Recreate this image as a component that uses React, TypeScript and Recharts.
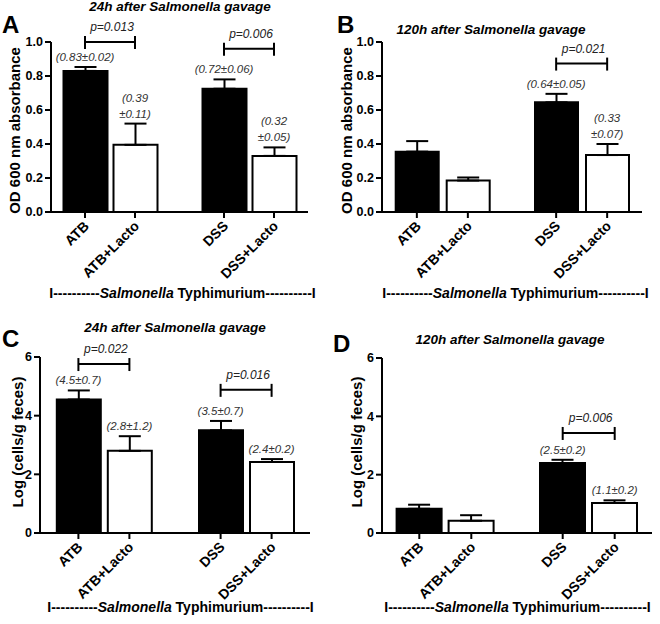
import React from "react";
import { BarChart, Bar, XAxis, YAxis, ErrorBar, ReferenceDot } from "recharts";

const FONT = "'Liberation Sans', Arial, Helvetica, sans-serif";

// ---------- shared categories ----------
const groups = ["ATB", "DSS"];
const xTickLabels = [
  ["ATB", "ATB+Lacto"],
  ["DSS", "DSS+Lacto"],
];

// ---------- Panel A : OD600, 24h ----------
const aPlain = [0.83, 0.725];
const aPlainErr = [0.023, 0.055];
const aLacto = [0.395, 0.33];
const aLactoErr = [0.125, 0.05];
const aPlainNotes = [["(0.83±0.02)"], ["(0.72±0.06)"]];
const aLactoNotes = [["(0.39", "±0.11)"], ["(0.32", "±0.05)"]];
const aPText = ["p=0.013", "p=0.006"];
const aPLevel = [1.0, 0.96];

// ---------- Panel B : OD600, 120h ----------
const bPlain = [0.355, 0.645];
const bPlainErr = [0.062, 0.05];
const bLacto = [0.185, 0.335];
const bLactoErr = [0.018, 0.065];
const bPlainNotes = [null, ["(0.64±0.05)"]];
const bLactoNotes = [null, ["(0.33", "±0.07)"]];
const bPText = [null, "p=0.021"];
const bPLevel = [null, 0.873];

// ---------- Panel C : Log cells, 24h ----------
const cPlain = [4.55, 3.5];
const cPlainErr = [0.31, 0.32];
const cLacto = [2.8, 2.42];
const cLactoErr = [0.5, 0.1];
const cPlainNotes = [["(4.5±0.7)"], ["(3.5±0.7)"]];
const cLactoNotes = [["(2.8±1.2)"], ["(2.4±0.2)"]];
const cPText = ["p=0.022", "p=0.016"];
const cPLevel = [5.76, 4.88];

// ---------- Panel D : Log cells, 120h ----------
const dPlain = [0.83, 2.4];
const dPlainErr = [0.14, 0.11];
const dLacto = [0.42, 1.03];
const dLactoErr = [0.19, 0.09];
const dPlainNotes = [null, ["(2.5±0.2)"]];
const dLactoNotes = [null, ["(1.1±0.2)"]];
const dPText = [null, "p=0.006"];
const dPLevel = [null, 3.43];

const odTicks = [0, 0.2, 0.4, 0.6, 0.8, 1.0];
const logTicks = [0, 2, 4, 6];

const panelLetters = ["A", "B", "C", "D"];
const panelTitles = [
  "24h after Salmonella gavage",
  "120h after Salmonella gavage",
  "24h after Salmonella gavage",
  "120h after Salmonella gavage",
];
const yAxisTitles = [
  "OD 600 nm absorbance",
  "OD 600 nm absorbance",
  "Log (cells/g feces)",
  "Log (cells/g feces)",
];

type Notes = (string[] | null)[];

type PanelCfg = {
  left: number;
  top: number;
  plain: number[];
  plainErr: number[];
  lacto: number[];
  lactoErr: number[];
  plainNotes: Notes;
  lactoNotes: Notes;
  pText: (string | null)[];
  pLevel: (number | null)[];
  yDomain: [number, number];
  yTicks: number[];
  yDecimals: number;
  margin: { top: number; right: number; bottom: number; left: number };
  pad: number;
  barSize: number;
  barGap: number;
};

const XTick = (props: any) => {
  const { x, y, payload, off } = props;
  const gi = groups.indexOf(payload.value);
  const labels = xTickLabels[gi] || [];
  return (
    <g>
      {labels.map((lab, k) => {
        const cx = x + (k === 0 ? -off : off);
        const ex = cx + 5;
        const ey = y + 15;
        return (
          <g key={k}>
            <line x1={cx} x2={cx} y1={y} y2={y + 6} stroke="#000" strokeWidth={2} />
            <text
              x={ex}
              y={ey}
              transform={`rotate(-45 ${ex} ${ey})`}
              textAnchor="end"
              fontSize={14}
              fontWeight="bold"
              fontFamily={FONT}
              fill="#000"
            >
              {lab}
            </text>
          </g>
        );
      })}
    </g>
  );
};

const noteShape = (lines: string[], dx: number) => (p: any) => {
  const { cx, cy } = p;
  const n = lines.length;
  return (
    <g>
      {lines.map((t, k) => (
        <text
          key={k}
          x={cx + dx}
          y={cy - 6 - (n - 1 - k) * 16}
          textAnchor="middle"
          fontSize={11.5}
          fontStyle="italic"
          fontFamily={FONT}
          fill="#333"
        >
          {t}
        </text>
      ))}
    </g>
  );
};

const bracketShape = (label: string, off: number) => (p: any) => {
  const { cx, cy } = p;
  const l = cx - off;
  const r = cx + off;
  return (
    <g>
      <line x1={l} x2={r} y1={cy} y2={cy} stroke="#000" strokeWidth={2} />
      <line x1={l} x2={l} y1={cy - 6} y2={cy + 7} stroke="#000" strokeWidth={2} />
      <line x1={r} x2={r} y1={cy - 6} y2={cy + 7} stroke="#000" strokeWidth={2} />
      <text
        x={cx + 2}
        y={cy - 11}
        textAnchor="middle"
        fontSize={12}
        fontStyle="italic"
        fontFamily={FONT}
        fill="#222"
      >
        {label}
      </text>
    </g>
  );
};

const Panel = ({ cfg }: { cfg: PanelCfg }) => {
  const off = (cfg.barSize + cfg.barGap) / 2;
  const data = groups.map((g, i) => ({
    group: g,
    plain: cfg.plain[i],
    plainErr: [0, cfg.plainErr[i]],
    lacto: cfg.lacto[i],
    lactoErr: [0, cfg.lactoErr[i]],
  }));

  const annotations: React.ReactNode[] = [];
  groups.forEach((g, i) => {
    const pt = cfg.pText[i];
    const pl = cfg.pLevel[i];
    if (pt && pl != null) {
      annotations.push(
        <ReferenceDot
          key={`p${i}`}
          x={g}
          y={pl}
          r={0}
          ifOverflow="visible"
          shape={bracketShape(pt, off)}
        />
      );
    }
    const pn = cfg.plainNotes[i];
    if (pn) {
      annotations.push(
        <ReferenceDot
          key={`pn${i}`}
          x={g}
          y={cfg.plain[i] + cfg.plainErr[i]}
          r={0}
          ifOverflow="visible"
          shape={noteShape(pn, -off)}
        />
      );
    }
    const ln = cfg.lactoNotes[i];
    if (ln) {
      annotations.push(
        <ReferenceDot
          key={`ln${i}`}
          x={g}
          y={cfg.lacto[i] + cfg.lactoErr[i]}
          r={0}
          ifOverflow="visible"
          shape={noteShape(ln, off)}
        />
      );
    }
  });

  return (
    <div style={{ position: "absolute", left: cfg.left, top: cfg.top }}>
      <BarChart
        width={330}
        height={312}
        data={data}
        margin={cfg.margin}
        barGap={cfg.barGap}
      >
        <XAxis
          dataKey="group"
          type="category"
          padding={{ left: cfg.pad, right: cfg.pad }}
          axisLine={{ stroke: "#000", strokeWidth: 2 }}
          tickLine={false}
          tickSize={0}
          tickMargin={0}
          height={60}
          interval={0}
          tick={(p: any) => <XTick {...p} off={off} />}
        />
        <YAxis
          type="number"
          domain={cfg.yDomain}
          ticks={cfg.yTicks}
          interval={0}
          width={40}
          axisLine={{ stroke: "#000", strokeWidth: 2 }}
          tickLine={{ stroke: "#000", strokeWidth: 2 }}
          tickSize={6}
          tickMargin={2}
          tickFormatter={(v: number) => v.toFixed(cfg.yDecimals)}
          tick={{ fontSize: 12.5, fontWeight: "bold", fill: "#000", fontFamily: FONT }}
        />
        <Bar
          dataKey="plain"
          fill="#000"
          stroke="#000"
          strokeWidth={2}
          barSize={cfg.barSize}
          isAnimationActive={false}
        >
          <ErrorBar dataKey="plainErr" direction="y" width={11} stroke="#000" strokeWidth={2} />
        </Bar>
        <Bar
          dataKey="lacto"
          fill="#fff"
          stroke="#000"
          strokeWidth={2}
          barSize={cfg.barSize}
          isAnimationActive={false}
        >
          <ErrorBar dataKey="lactoErr" direction="y" width={11} stroke="#000" strokeWidth={2} />
        </Bar>
        {annotations}
      </BarChart>
    </div>
  );
};

const panels: PanelCfg[] = [
  {
    left: 0, top: 0,
    plain: aPlain, plainErr: aPlainErr, lacto: aLacto, lactoErr: aLactoErr,
    plainNotes: aPlainNotes, lactoNotes: aLactoNotes, pText: aPText, pLevel: aPLevel,
    yDomain: [0, 1], yTicks: odTicks, yDecimals: 1,
    margin: { top: 42, right: 22, bottom: 40, left: 11 },
    pad: -10.5, barSize: 44, barGap: 6,
  },
  {
    left: 330, top: 0,
    plain: bPlain, plainErr: bPlainErr, lacto: bLacto, lactoErr: bLactoErr,
    plainNotes: bPlainNotes, lactoNotes: bLactoNotes, pText: bPText, pLevel: bPLevel,
    yDomain: [0, 1], yTicks: odTicks, yDecimals: 1,
    margin: { top: 42, right: 18, bottom: 40, left: 12 },
    pad: -9.3, barSize: 43, barGap: 8,
  },
  {
    left: 0, top: 312,
    plain: cPlain, plainErr: cPlainErr, lacto: cLacto, lactoErr: cLactoErr,
    plainNotes: cPlainNotes, lactoNotes: cLactoNotes, pText: cPText, pLevel: cPLevel,
    yDomain: [0, 6], yTicks: logTicks, yDecimals: 0,
    margin: { top: 45, right: 20, bottom: 31, left: 0 },
    pad: -7.2, barSize: 44, barGap: 7,
  },
  {
    left: 330, top: 312,
    plain: dPlain, plainErr: dPlainErr, lacto: dLacto, lactoErr: dLactoErr,
    plainNotes: dPlainNotes, lactoNotes: dLactoNotes, pText: dPText, pLevel: dPLevel,
    yDomain: [0, 6], yTicks: logTicks, yDecimals: 0,
    margin: { top: 46, right: 8, bottom: 31, left: 12 },
    pad: -8.4, barSize: 45, barGap: 7,
  },
];

// static text placement (page coordinates)
const letterPos = [
  [2, 33],
  [337, 33],
  [2, 347],
  [333, 352],
];
const titlePos = [
  [180, 11],
  [491, 34],
  [175, 332],
  [510, 344],
];
const yTitlePos = [
  [20, 130.5],
  [352, 130.5],
  [23, 442],
  [362, 442],
];
const footPos = [
  [182.5, 298],
  [515.5, 298],
  [180.5, 612],
  [517.5, 612],
];

const TitleText = ({ t, x, y }: { t: string; x: number; y: number }) => (
  <text x={x} y={y} textAnchor="middle" fontSize={13.5} fontWeight="bold" fontStyle="italic" fill="#000">
    {t}
  </text>
);

export default function App() {
  return (
    <div
      style={{
        position: "absolute",
        left: 0,
        top: 0,
        width: 660,
        height: 624,
        background: "#fff",
        fontFamily: FONT,
      }}
    >
      {panels.map((cfg, i) => (
        <Panel key={i} cfg={cfg} />
      ))}
      <svg
        width={660}
        height={624}
        style={{ position: "absolute", left: 0, top: 0, pointerEvents: "none" }}
        fontFamily={FONT}
      >
        {panelLetters.map((l, i) => (
          <text key={`l${i}`} x={letterPos[i][0]} y={letterPos[i][1]} fontSize={24} fontWeight="bold" fill="#000">
            {l}
          </text>
        ))}
        {panelTitles.map((t, i) => (
          <TitleText key={`t${i}`} t={t} x={titlePos[i][0]} y={titlePos[i][1]} />
        ))}
        {yAxisTitles.map((t, i) => (
          <text
            key={`y${i}`}
            x={yTitlePos[i][0]}
            y={yTitlePos[i][1]}
            transform={`rotate(-90 ${yTitlePos[i][0]} ${yTitlePos[i][1]})`}
            textAnchor="middle"
            fontSize={15}
            fontWeight="bold"
            fill="#000"
          >
            {t}
          </text>
        ))}
        {footPos.map((p, i) => (
          <text key={`f${i}`} x={p[0]} y={p[1]} textAnchor="middle" fontSize={14} fontWeight="bold" fill="#000">
            I----------<tspan fontStyle="italic">Salmonella</tspan> Typhimurium----------I
          </text>
        ))}
      </svg>
    </div>
  );
}
